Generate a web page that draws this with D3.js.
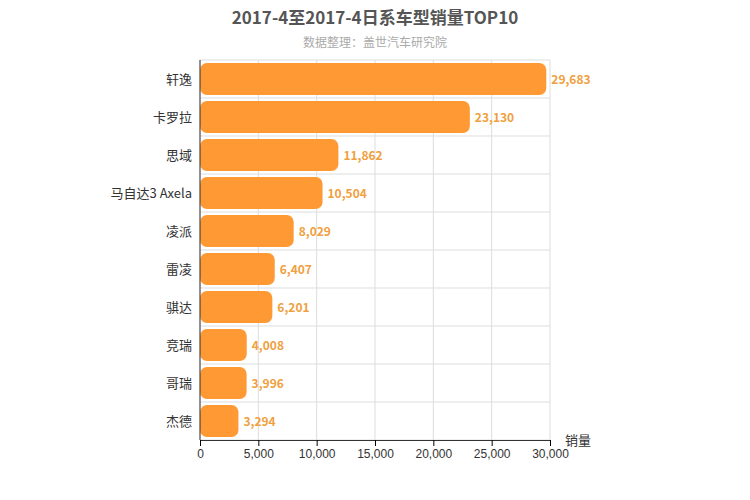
<!DOCTYPE html>
<html><head><meta charset="utf-8">
<script src="https://cdn.jsdelivr.net/npm/d3@7"></script>
<style>body{margin:0;background:#fff;font-family:"Noto Sans CJK SC","Noto Sans",sans-serif}</style>
</head><body><svg id="c" width="750" height="500"></svg>
<script>
const categories=["轩逸","卡罗拉","思域","马自达3 Axela","凌派","雷凌","骐达","竞瑞","哥瑞","杰德"];
const values=[29683,23130,11862,10504,8029,6407,6201,4008,3996,3294];
const ticks=[0,5000,10000,15000,20000,25000,30000];
const svg=d3.select("#c");
const L=200,R=550,T=60,B=440;
const x=d3.scaleLinear().domain([0,30000]).range([L,R]);
const y=d3.scaleBand().domain(categories).range([T,B]);
const g=svg.append("g");
ticks.forEach(t=>g.append("line").attr("x1",x(t)).attr("x2",x(t)).attr("y1",T).attr("y2",B).attr("stroke","#ddd"));
for(let i=0;i<=categories.length;i++){const yy=T+i*y.step();g.append("line").attr("x1",L).attr("x2",R).attr("y1",yy).attr("y2",yy).attr("stroke","#ddd");}
categories.forEach((c,i)=>{
  const yy=y(c)+3,h=y.bandwidth()-6;
  g.append("rect").attr("x",x(0)).attr("y",yy).attr("width",x(values[i])-x(0)).attr("height",h).attr("rx",7).attr("fill","#ff9933");
  g.append("text").attr("x",x(values[i])+5).attr("y",y(c)+y.bandwidth()/2+5).attr("font-size",12).attr("font-weight","bold").attr("fill","#f0a040").text(d3.format(",")(values[i]));
  g.append("text").attr("x",L-8).attr("y",y(c)+y.bandwidth()/2+5).attr("text-anchor","end").attr("font-size",13).attr("fill","#333").text(c);
});
g.append("line").attr("x1",L).attr("x2",L).attr("y1",T).attr("y2",B).attr("stroke","#333");
const ax=svg.append("g").attr("transform",`translate(0,${B})`).call(d3.axisBottom(x).tickValues(ticks).tickFormat(d3.format(",")).tickSizeOuter(0));
ax.select(".domain").attr("stroke","#333");ax.selectAll("text").attr("font-size",12).attr("fill","#333");
svg.append("text").attr("x",565).attr("y",445).attr("font-size",13).attr("fill","#333").text("销量");
svg.append("text").attr("x",375).attr("y",24).attr("text-anchor","middle").attr("font-size",17).attr("font-weight","bold").attr("fill","#555").text("2017-4至2017-4日系车型销量TOP10");
svg.append("text").attr("x",375).attr("y",47).attr("text-anchor","middle").attr("font-size",12).attr("fill","#aaa").text("数据整理：盖世汽车研究院");
</script></body></html>
